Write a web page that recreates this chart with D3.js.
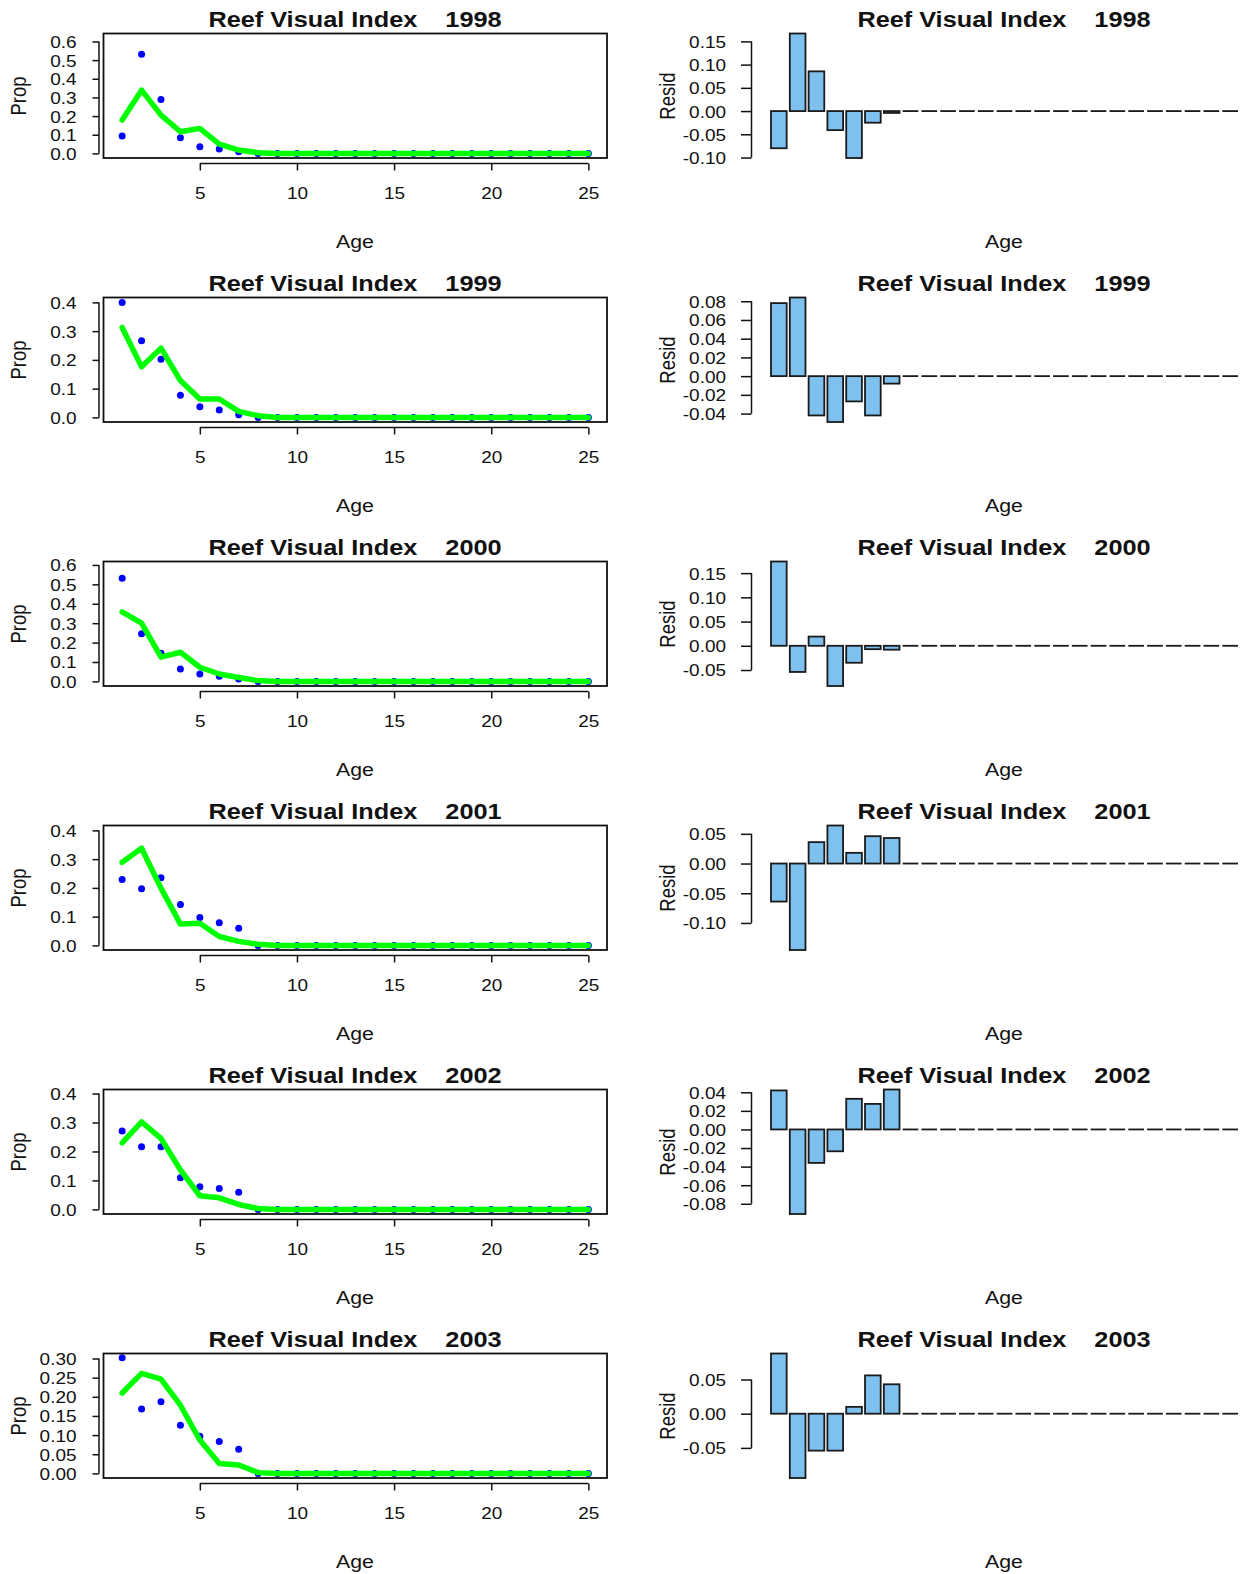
<!DOCTYPE html>
<html><head><meta charset="utf-8">
<script src="https://cdn.jsdelivr.net/npm/d3@7"></script>
<style>body{margin:0;background:#fff} svg{display:block}</style>
</head><body>
<script>
// ---------------- DATA ----------------
const years = [1998, 1999, 2000, 2001, 2002, 2003];
const ages = [1,2,3,4,5,6,7,8,9,10,11,12,13,14,15,16,17,18,19,20,21,22,23,24,25];
const titlePrefix = "Reef Visual Index";

const obs1998 = [0.093,0.532,0.289,0.084,0.036,0.023,0.009,0,0,0,0,0,0,0,0,0,0,0,0,0,0,0,0,0,0];
const obs1999 = [0.400,0.267,0.202,0.077,0.037,0.026,0.009,0,0,0,0,0,0,0,0,0,0,0,0,0,0,0,0,0,0];
const obs2000 = [0.531,0.246,0.145,0.064,0.038,0.026,0.012,0,0,0,0,0,0,0,0,0,0,0,0,0,0,0,0,0,0];
const obs2001 = [0.229,0.197,0.235,0.142,0.097,0.079,0.060,0,0,0,0,0,0,0,0,0,0,0,0,0,0,0,0,0,0];
const obs2002 = [0.271,0.216,0.216,0.109,0.078,0.072,0.059,0,0,0,0,0,0,0,0,0,0,0,0,0,0,0,0,0,0];
const obs2003 = [0.302,0.168,0.187,0.126,0.097,0.083,0.063,0,0,0,0,0,0,0,0,0,0,0,0,0,0,0,0,0,0];

const pred1998 = [0.179,0.339,0.205,0.116,0.134,0.050,0.018,0.004,0,0,0,0,0,0,0,0,0,0,0,0,0,0,0,0,0];
const pred1999 = [0.313,0.176,0.241,0.128,0.064,0.064,0.021,0.006,0,0,0,0,0,0,0,0,0,0,0,0,0,0,0,0,0];
const pred2000 = [0.358,0.300,0.125,0.150,0.073,0.038,0.020,0.004,0,0,0,0,0,0,0,0,0,0,0,0,0,0,0,0,0];
const pred2001 = [0.289,0.338,0.199,0.074,0.077,0.031,0.014,0.004,0,0,0,0,0,0,0,0,0,0,0,0,0,0,0,0,0];
const pred2002 = [0.230,0.302,0.245,0.136,0.047,0.040,0.017,0.003,0,0,0,0,0,0,0,0,0,0,0,0,0,0,0,0,0];
const pred2003 = [0.210,0.261,0.246,0.178,0.087,0.026,0.022,0.002,0,0,0,0,0,0,0,0,0,0,0,0,0,0,0,0,0];

const resid1998 = [-0.080,0.167,0.0855,-0.041,-0.101,-0.025,-0.004,0,0,0,0,0,0,0,0,0,0,0,0,0,0,0,0,0,0];
const resid1999 = [0.078,0.084,-0.042,-0.049,-0.027,-0.042,-0.008,0,0,0,0,0,0,0,0,0,0,0,0,0,0,0,0,0,0];
const resid2000 = [0.174,-0.054,0.019,-0.083,-0.035,-0.007,-0.008,0,0,0,0,0,0,0,0,0,0,0,0,0,0,0,0,0,0];
const resid2001 = [-0.064,-0.1455,0.036,0.064,0.018,0.046,0.043,0,0,0,0,0,0,0,0,0,0,0,0,0,0,0,0,0,0];
const resid2002 = [0.042,-0.091,-0.036,-0.0235,0.033,0.0275,0.043,0,0,0,0,0,0,0,0,0,0,0,0,0,0,0,0,0,0];
const resid2003 = [0.088,-0.094,-0.054,-0.054,0.010,0.056,0.043,0,0,0,0,0,0,0,0,0,0,0,0,0,0,0,0,0,0];

const propMax = [0.618, 0.401, 0.594, 0.401, 0.398, 0.301];
const propTicks = [
  [0,0.1,0.2,0.3,0.4,0.5,0.6],
  [0,0.1,0.2,0.3,0.4],
  [0,0.1,0.2,0.3,0.4,0.5,0.6],
  [0,0.1,0.2,0.3,0.4],
  [0,0.1,0.2,0.3,0.4],
  [0,0.05,0.10,0.15,0.20,0.25,0.30]
];
const propTickDigits = [1,1,1,1,1,2];
const residTicks = [
  [-0.10,-0.05,0,0.05,0.10,0.15],
  [-0.04,-0.02,0,0.02,0.04,0.06,0.08],
  [-0.05,0,0.05,0.10,0.15],
  [-0.10,-0.05,0,0.05],
  [-0.08,-0.06,-0.04,-0.02,0,0.02,0.04],
  [-0.05,0,0.05]
];
const ageTicks = [5,10,15,20,25];

const obsAll = [obs1998,obs1999,obs2000,obs2001,obs2002,obs2003];
const predAll = [pred1998,pred1999,pred2000,pred2001,pred2002,pred2003];
const residAll = [resid1998,resid1999,resid2000,resid2001,resid2002,resid2003];

// ---------------- LAYOUT ----------------
const W = 1240, H = 1574, ROW = 264;
const SX = 1.15, SXT = 1.15;
const FONT = "'Liberation Sans', Arial, Helvetica, sans-serif";
const INK = "#111";
const TICKFS = 16.5;

const svg = d3.select("body").append("svg").attr("width", W).attr("height", H)
  .attr("font-family", FONT);

function addText(parent, x, y, str, o) {
  o = o || {};
  const sx = o.sx || SX;
  const tr = `translate(${x},${y}) scale(${sx},1)` + (o.rotate ? " rotate(-90)" : "");
  return parent.append("text").attr("transform", tr)
    .attr("text-anchor", o.anchor || "middle")
    .attr("font-size", o.size || 18)
    .attr("font-weight", o.bold ? "bold" : "normal")
    .attr("fill", INK)
    .style("white-space", "pre")
    .text(str);
}

function fmt(d, digits) { return d.toFixed(digits).replace("\u2212", "-"); }

years.forEach((yr, i) => {
  const oy = i * ROW;
  const top = oy + 33.5, bot = oy + 158;
  const obs = obsAll[i], pred = predAll[i], resid = residAll[i];

  // ---------- Left panel ----------
  const gL = svg.append("g");
  const x = d3.scaleLinear().domain([0.04, 25.96]).range([103.5, 607]);
  const pm = propMax[i];
  const y = d3.scaleLinear().domain([-0.04 * pm, 1.04 * pm]).range([bot, top]);

  gL.selectAll("circle").data(ages).join("circle")
    .attr("cx", a => x(a)).attr("cy", (a, k) => y(obs[k])).attr("r", 3.5)
    .attr("fill", "#0000FF");

  gL.append("path").datum(ages)
    .attr("d", d3.line().x(a => x(a)).y((a, k) => y(pred[k])))
    .attr("fill", "none").attr("stroke", "#00FF00").attr("stroke-width", 5.5)
    .attr("stroke-linejoin", "round").attr("stroke-linecap", "round");

  gL.append("rect").attr("x", 103.5).attr("y", top).attr("width", 607 - 103.5).attr("height", bot - top)
    .attr("fill", "none").attr("stroke", INK).attr("stroke-width", 1.8);

  // y axis
  const yt = propTicks[i];
  const ay = gL.append("g").attr("transform", "translate(99,0)")
    .call(d3.axisLeft(y).tickValues(yt).tickSize(6.5).tickSizeOuter(0)
      .tickFormat(d => fmt(d, propTickDigits[i])));
  ay.select(".domain").remove();
  ay.selectAll("line").attr("stroke", INK).attr("stroke-width", 1.5);
  ay.selectAll("text").attr("x", null).attr("dy", "0.36em")
    .attr("transform", `translate(-22.5,0) scale(${SXT},1)`)
    .attr("font-size", TICKFS).attr("font-family", FONT).attr("fill", INK);
  ay.append("line").attr("x1", 0).attr("x2", 0)
    .attr("y1", y(d3.min(yt))).attr("y2", y(d3.max(yt)))
    .attr("stroke", INK).attr("stroke-width", 1.5);

  // x axis
  const ax = gL.append("g").attr("transform", `translate(0,${oy + 163.5})`)
    .call(d3.axisBottom(x).tickValues(ageTicks).tickSize(7).tickSizeOuter(0));
  ax.select(".domain").remove();
  ax.selectAll("line").attr("stroke", INK).attr("stroke-width", 1.5);
  ax.selectAll("text").attr("y", null).attr("dy", null)
    .attr("transform", `translate(0,35) scale(${SXT},1)`)
    .attr("font-size", TICKFS).attr("font-family", FONT).attr("fill", INK);
  ax.append("line").attr("x1", x(d3.min(ageTicks))).attr("x2", x(d3.max(ageTicks)))
    .attr("y1", 0).attr("y2", 0).attr("stroke", INK).attr("stroke-width", 1.5);

  addText(gL, 355, oy + 26.5, `${titlePrefix}    ${yr}`, {size: 22, bold: true});
  addText(gL, 355, oy + 247.5, "Age", {size: 18.5});
  addText(gL, 26, oy + 96, "Prop", {size: 18.5, rotate: true});

  // ---------- Right panel ----------
  const gR = svg.append("g");
  const xb = d3.scaleBand().domain(ages).range([771, 1238])
    .paddingInner(0.2 / 1.2).paddingOuter(0);
  const yr2 = d3.scaleLinear().domain(d3.extent([0].concat(resid))).range([bot, top]);
  const bw = xb.bandwidth();

  const nz = ages.filter((a, k) => resid[k] !== 0);
  const zz = ages.filter((a, k) => resid[k] === 0);

  gR.selectAll("line.zero").data(zz).join("line").attr("class", "zero")
    .attr("x1", a => xb(a)).attr("x2", a => xb(a) + bw)
    .attr("y1", yr2(0)).attr("y2", yr2(0))
    .attr("stroke", "#1a1a1a").attr("stroke-width", 1.8);

  gR.selectAll("rect.bar").data(nz).join("rect").attr("class", "bar")
    .attr("x", a => xb(a)).attr("width", bw)
    .attr("y", a => Math.min(yr2(resid[a - 1]), yr2(0)))
    .attr("height", a => Math.max(1, Math.abs(yr2(resid[a - 1]) - yr2(0))))
    .attr("fill", "#7EC0EE").attr("stroke", "#1a1a1a").attr("stroke-width", 1.8);

  const rt = residTicks[i];
  const ar = gR.append("g").attr("transform", "translate(751.5,0)")
    .call(d3.axisLeft(yr2).tickValues(rt).tickSize(10.5).tickSizeOuter(0)
      .tickFormat(d => fmt(d, 2)));
  ar.select(".domain").remove();
  ar.selectAll("line").attr("stroke", INK).attr("stroke-width", 1.5);
  ar.selectAll("text").attr("x", null).attr("dy", "0.36em")
    .attr("transform", `translate(-25.5,0) scale(${SXT},1)`)
    .attr("font-size", TICKFS).attr("font-family", FONT).attr("fill", INK);
  ar.append("line").attr("x1", 0).attr("x2", 0)
    .attr("y1", yr2(d3.min(rt))).attr("y2", yr2(d3.max(rt)))
    .attr("stroke", INK).attr("stroke-width", 1.5);

  addText(gR, 1004, oy + 26.5, `${titlePrefix}    ${yr}`, {size: 22, bold: true});
  addText(gR, 1004, oy + 247.5, "Age", {size: 18.5});
  addText(gR, 675, oy + 96, "Resid", {size: 18.5, rotate: true});
});
</script>
</body></html>
